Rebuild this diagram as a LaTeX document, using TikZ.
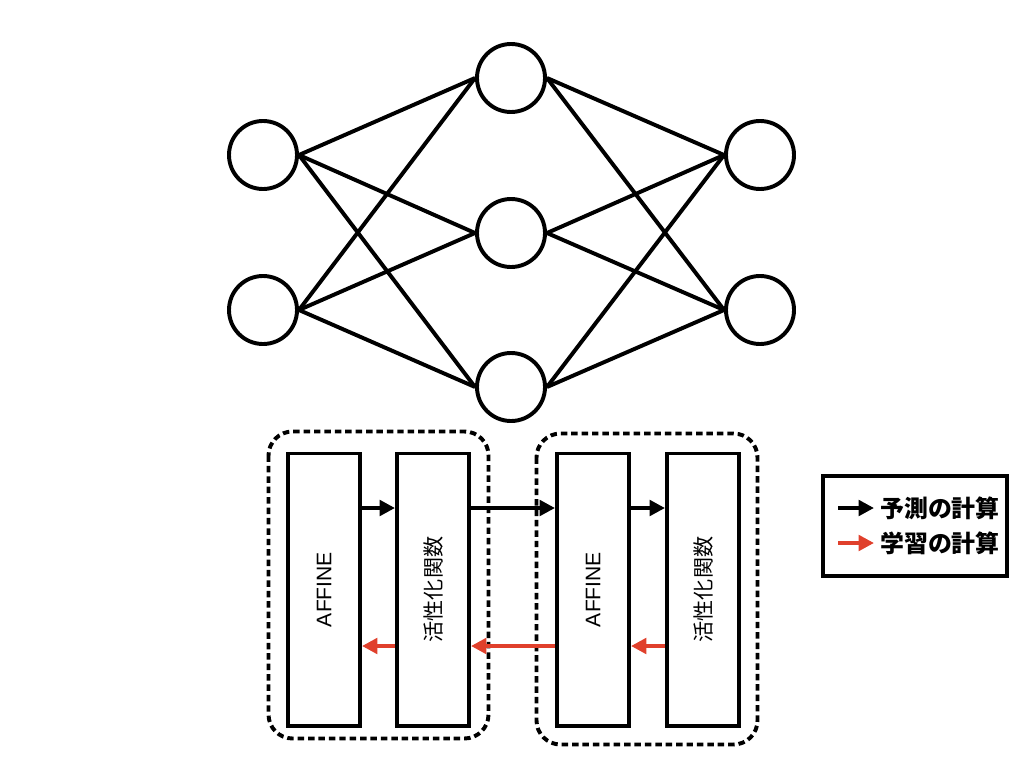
\documentclass[tikz,border=0pt]{standalone}
\usepackage{fontspec}
\setmainfont{Liberation Sans}
\newfontfamily\jp{Noto Sans CJK JP}
\usetikzlibrary{arrows.meta}
\definecolor{backred}{RGB}{224,64,44}

\begin{document}
\begin{tikzpicture}[
		x=0.025cm, y=-0.025cm,
		line width=2.8pt,
		>={Triangle[length=11pt,width=11pt]},
		neuron/.style={draw,circle,inner sep=0pt,minimum size=1.7cm},
		layer/.style={draw,rectangle,inner sep=0pt,minimum width=1.8cm,minimum height=6.8cm},
		group/.style={draw,dash pattern=on 4.6pt off 2.8pt,rounded corners=0.6cm},
		fwd/.style={->,black},
		bwd/.style={->,backred},
		keytext/.style={anchor=west,inner sep=3pt,font=\jp\bfseries\fontsize{17}{20}\selectfont}
	]
		\useasboundingbox (0,0) rectangle (1024,768);

		% Network
		\node[neuron] (i1) at (263, 155) {};
		\node[neuron] (i2) at (263, 310) {};
		\node[neuron] (h1) at (511, 78) {};
		\node[neuron] (h2) at (511, 233) {};
		\node[neuron] (h3) at (511, 387) {};
		\node[neuron] (o1) at (760, 155) {};
		\node[neuron] (o2) at (760, 310) {};

		\draw (i1.east) edge (h1.west) edge (h2.west) edge (h3.west);
		\draw (i2.east) edge (h1.west) edge (h2.west) edge (h3.west);
		\draw (h1.east) edge (o1.west) edge (o2.west);
		\draw (h2.east) edge (o1.west) edge (o2.west);
		\draw (h3.east) edge (o1.west) edge (o2.west);

		% Layers
		\draw[group] (268.5, 431.5) rectangle (488.5, 738.5);
		\draw[group] (536.5, 433.5) rectangle (757.5, 744.5);

		\node[layer, label={[rotate=90,font=\fontsize{15}{18}\selectfont]center:AFFINE}] (a1) at (324, 589.5) {};
		\node[layer, label={[rotate=90,font=\jp\fontsize{15}{18}\selectfont]center:活性化関数}] (f1) at (433, 589.5) {};
		\node[layer, label={[rotate=90,font=\fontsize{15}{18}\selectfont]center:AFFINE}] (a2) at (593, 589.5) {};
		\node[layer, label={[rotate=90,font=\jp\fontsize{15}{18}\selectfont]center:活性化関数}] (f2) at (703, 589.5) {};

		\coordinate (fwdline) at (0, 508);
		\coordinate (bwdline) at (0, 646);

		\draw[fwd] (a1.east |- fwdline) -- (f1.west |- fwdline);
		\draw[fwd] (f1.east |- fwdline) -- (a2.west |- fwdline);
		\draw[fwd] (a2.east |- fwdline) -- (f2.west |- fwdline);
		\draw[bwd] (f2.west |- bwdline) -- (a2.east |- bwdline);
		\draw[bwd] (a2.west |- bwdline) -- (f1.east |- bwdline);
		\draw[bwd] (f1.west |- bwdline) -- (a1.east |- bwdline);

		% Legend
		\node[draw,line width=3.4pt,minimum width=4.6cm,minimum height=2.5cm] (key) at (915, 526) {};
		\node[keytext] (k1) at (874, 508) {予測の計算};
		\node[keytext] (k2) at (874, 543) {学習の計算};
		\coordinate (k1s) at (838, 508);
		\coordinate (k2s) at (838, 543);
		\draw[fwd] (k1s) -- (k1.west);
		\draw[bwd] (k2s) -- (k2.west);
\end{tikzpicture}
\end{document}
